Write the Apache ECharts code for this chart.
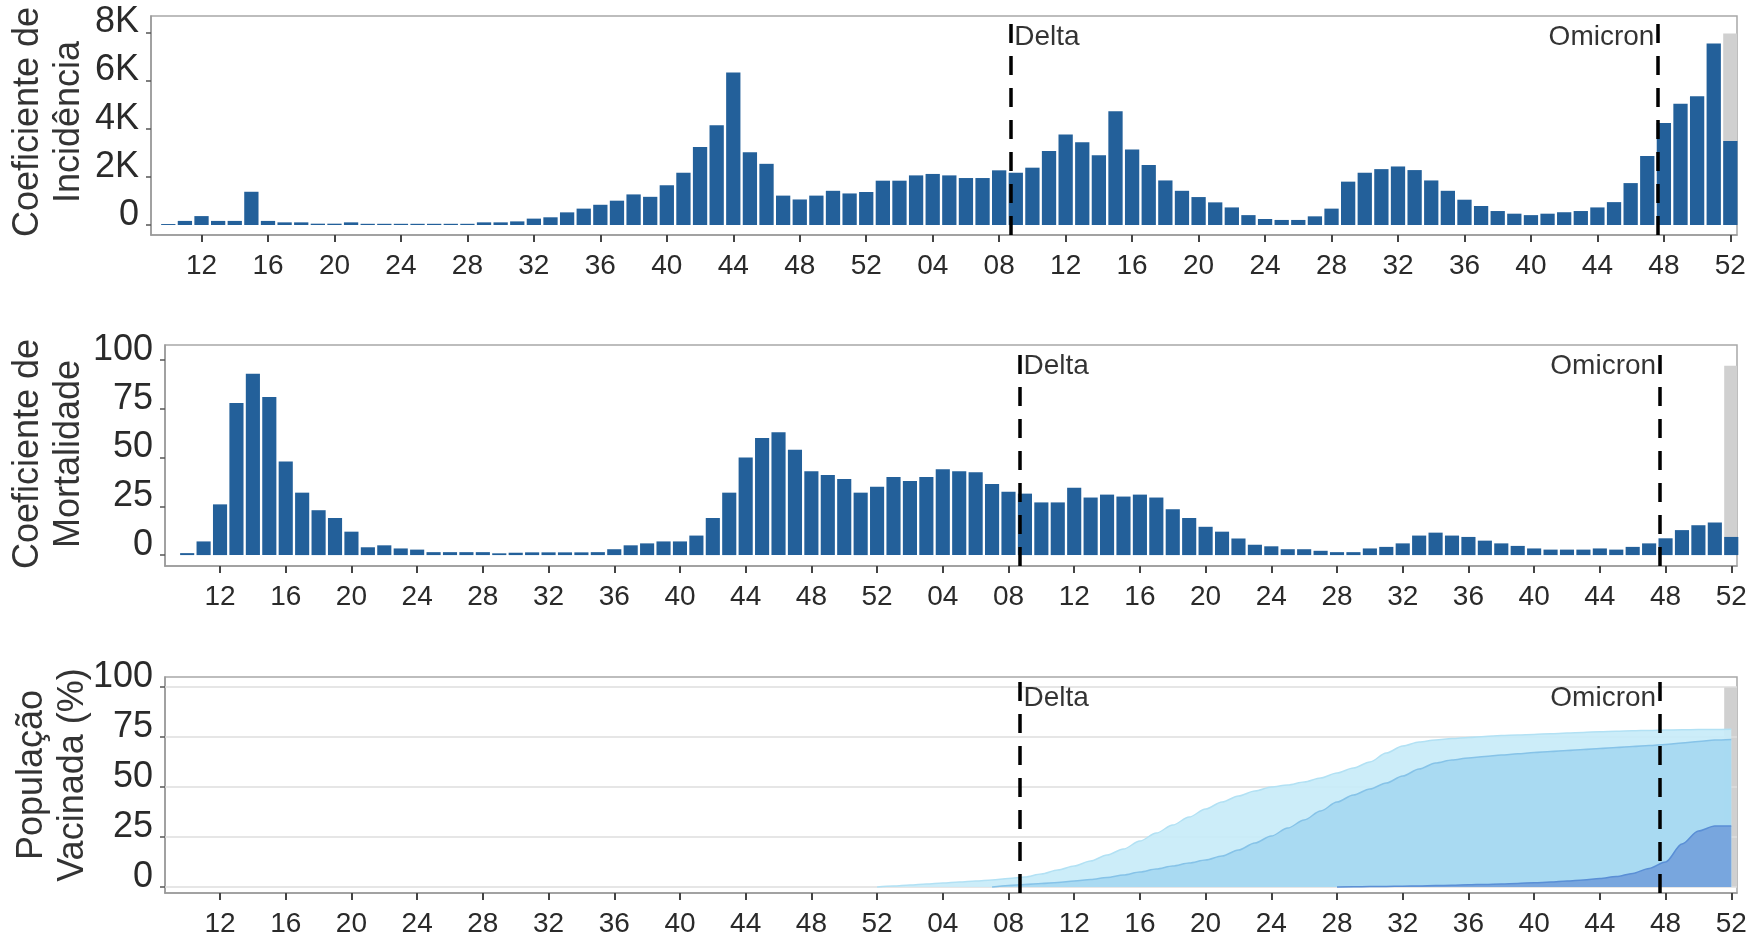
<!DOCTYPE html>
<html>
<head>
<meta charset="utf-8">
<script src="https://cdn.jsdelivr.net/npm/echarts@6/dist/echarts.min.js"></script>
<style>
html,body{margin:0;padding:0;background:#ffffff;}
#c{width:1751px;height:943px;}
</style>
</head>
<body>
<div id="c"></div>
<script>
// ---- DATA ----
// continuous week index t: 2020 week w -> t = w ; 2021 week w -> t = 52 + w
const firstWeek = 10; // first bar = 2020 week 10
const incidencia = [
  40,170,370,170,170,1380,170,110,110,55,55,110,50,50,50,50,50,50,50,110,110,150,265,320,525,680,840,1010,1270,1170,
  1650,2170,3240,4140,6330,3020,2540,1220,1060,1220,1420,1310,1370,
  1840,1840,2060,2120,2060,1950,1950,2270,2170,2380,3070,3760,3440,2900,4720,3130,2490,1850,1420,1160,940,730,410,250,
  210,210,360,680,1800,2170,2320,2430,2280,1850,1420,1050,790,580,470,410,470,530,580,730,950,1740,2860,4230,5030,5350,7540,3490
];
const mortalidade = [
  1,7,26,78,93,81,48,32,23,19,12,4,5,3.4,2.8,1.5,1.5,1.5,1.5,0.9,1.2,1.4,1.4,1.4,1.4,1.5,3,5,6,7,
  7,10,19,32,50,60,63,54,43,41,39,32,35,
  40,38,40,44,43,42.5,36.5,32.5,31.5,27,27,34.5,29.5,31,30,31,29.5,23.5,19,14.5,12,8.5,5.3,4.5,
  3,3,2.2,1.5,1.5,3.4,4.2,6,10,11.5,10,9.3,7.4,6,4.7,3.4,2.8,2.8,2.8,3.4,2.8,4.2,6,8.6,12.8,15.3,16.7,9.3
];
const vacStart = 52; // first vaccination point = 2020 week 52
const dose1 = [0,0.5,1,1.5,2,2.5,3,3.5,4.2,5,6.5,8.5,10.5,13,16,19,23,27,31,35,39,42.5,45.5,48,50,51,52.5,54.5,57,59.5,62.5,67,70.5,72.5,73.5,74.2,74.8,75.3,75.7,76,76.3,76.6,77,77.3,77.6,77.9,78.1,78.3,78.5,78.6,78.7,78.8,78.9];
const dose2 = [null,null,null,null,null,null,null,0,0.8,1.3,1.8,2.3,3,3.8,4.8,6,7.5,9,10.5,12,13.5,15.5,18.5,22,25.5,29.5,33.5,38,42.5,46,49,52,55.5,59,62,63.5,64.5,65.3,66,66.6,67.2,67.7,68.2,68.7,69.2,69.7,70.2,70.7,71.3,72,72.8,73.5,73.8];
const dose3 = [null,null,null,null,null,null,null,null,null,null,null,null,null,null,null,null,null,null,null,null,null,null,null,null,null,null,null,null,0,0.1,0.2,0.3,0.4,0.5,0.7,0.9,1.1,1.3,1.5,1.8,2.1,2.5,3,3.5,4.2,5.2,6.8,9.3,12.5,21.5,28,30.5,30.5];
const tickWeeks = [12,16,20,24,28,32,36,40,44,48,52,56,60,64,68,72,76,80,84,88,92,96,100,104];
const variantNames = ['Delta','Omicron'];
const variantWeeks = [60.7, 99.64];
const highlightWeek = 104;
const highlightTop = [7950, 97, 100];
const incTicks = [0,2000,4000,6000,8000];
const pctTicks = [0,25,50,75,100];
const titles = ['Coeficiente de\nIncidência','Coeficiente de\nMortalidade','População\nVacinada (%)'];

// ---- BUILD ----
const FONT = "'Liberation Sans', Arial, sans-serif";
const BAR = '#23609a';
const toPairs = (arr, start) => arr.map((v, i) => [start + i, v]);
const weekLabel = t => { const w = t > 52 ? t - 52 : t; return (w < 10 ? '0' : '') + w; };

const grids = [
  {left:151, right:14, top:16, height:219},
  {left:165, right:14, top:345, height:221},
  {left:165, right:14, top:677, height:216}
].map(g => Object.assign(g, {show:true, borderColor:'#a8a8a8', borderWidth:1.5, backgroundColor:'transparent'}));

const xRanges = [[8.96, 104.4],[8.65, 104.35],[8.65, 104.35]];
const xAxes = xRanges.map((r, i) => ({
  type:'value', gridIndex:i, min:r[0], max:r[1],
  axisLine:{show:true, onZero:false, lineStyle:{color:'#999', width:1.5}},
  axisTick:{show:true, length:7, customValues:tickWeeks, lineStyle:{color:'#444', width:2}},
  axisLabel:{customValues:tickWeeks, formatter:weekLabel, fontFamily:FONT, fontSize:28, lineHeight:28, color:'#2a2a2a', margin:17},
  splitLine:{show:false}
}));

const yRanges = [[-415, 8677],[-5.6, 107.7],[-3, 105]];
const yTicks = [incTicks, pctTicks, pctTicks];
const yAxes = yRanges.map((r, i) => ({
  type:'value', gridIndex:i, min:r[0], max:r[1],
  axisLine:{show:true, onZero:false, lineStyle:{color:'#999', width:1.5}},
  axisTick:{show:true, length:5, customValues:yTicks[i], lineStyle:{color:'#555', width:1.5}},
  axisLabel:{customValues:yTicks[i], fontFamily:FONT, fontSize:36, color:'#2a2a2a', margin:12,
    verticalAlign:'bottom', lineHeight:20,
    formatter: v => (i === 0 ? (v === 0 ? '0' : (v/1000) + 'K') : String(v))},
  splitLine:{show:false}
}));

const hlArea = (i) => ({
  silent:true, z:1,
  itemStyle:{color:'#d0d0d0'},
  label:{show:false},
  data:[[{xAxis: highlightWeek - 0.43, yAxis: 0}, {xAxis: highlightWeek + 0.43, yAxis: highlightTop[i]}]]
});

const labelY = [7805, 96.9, 94.5];
const variantSeries = [0,1,2].map(i => ({
  type:'scatter', xAxisIndex:i, yAxisIndex:i, z:10, silent:true,
  symbolSize:1, itemStyle:{color:'rgba(0,0,0,0)'},
  data: variantNames.map((n, k) => ({
    name:n, value:[variantWeeks[k], labelY[i]],
    label:{show:true, position: k === 0 ? 'right' : 'left', distance:3, formatter:n,
      fontFamily:FONT, fontSize:28, color:'#000'}
  })),
  markLine:{
    silent:true, symbol:['none','none'], z:10,
    label:{show:false},
    lineStyle:{color:'#000', width:3.5, type:[19,13]},
    data: variantWeeks.map(w => ({xAxis:w}))
  }
}));

const series = [
  {type:'bar', name:'Incidência', xAxisIndex:0, yAxisIndex:0, barWidth:'86%',
   itemStyle:{color:BAR}, data: toPairs(incidencia, firstWeek), markArea: hlArea(0)},
  {type:'bar', name:'Mortalidade', xAxisIndex:1, yAxisIndex:1, barWidth:'86%',
   itemStyle:{color:BAR}, data: toPairs(mortalidade, firstWeek), markArea: hlArea(1)},
  {type:'line', name:'1ª dose', xAxisIndex:2, yAxisIndex:2, z:2, smooth:0.3, smoothMonotone:'x', showSymbol:false,
   lineStyle:{color:'#b2e1f4', width:1.5}, areaStyle:{color:'#c8ecf9', opacity:0.92},
   data: toPairs(dose1, vacStart),
   markLine:{silent:true, z:1, symbol:['none','none'], label:{show:false},
     lineStyle:{color:'#dedede', width:1.5, type:'solid'},
     data: pctTicks.map(v => ({yAxis:v}))},
   markArea: hlArea(2)},
  {type:'line', name:'2ª dose', xAxisIndex:2, yAxisIndex:2, z:3, smooth:0.3, smoothMonotone:'x', showSymbol:false,
   lineStyle:{color:'#86c3e8', width:1.5}, areaStyle:{color:'#a7d9f1', opacity:0.95},
   data: toPairs(dose2, vacStart)},
  {type:'line', name:'Reforço', xAxisIndex:2, yAxisIndex:2, z:4, smooth:0.3, smoothMonotone:'x', showSymbol:false,
   lineStyle:{color:'#5a8fd6', width:1.5}, areaStyle:{color:'#75a3dc', opacity:0.95},
   data: toPairs(dose3, vacStart)}
].concat(variantSeries);

const titlePos = [[48.5, 122],[48.5, 454],[53, 775]];
const graphic = titles.map((t, i) => ({
  type:'text', x:titlePos[i][0], y:titlePos[i][1], rotation:Math.PI/2, silent:true,
  style:{text:t, font:'36px ' + FONT, fill:'#333', align:'center', verticalAlign:'middle', lineHeight:41}
}));

const chart = echarts.init(document.getElementById('c'), null, {renderer:'canvas'});
chart.setOption({
  animation:false,
  backgroundColor:'#ffffff',
  textStyle:{fontFamily:FONT},
  grid:grids, xAxis:xAxes, yAxis:yAxes, series:series, graphic:graphic
});
</script>
</body>
</html>
